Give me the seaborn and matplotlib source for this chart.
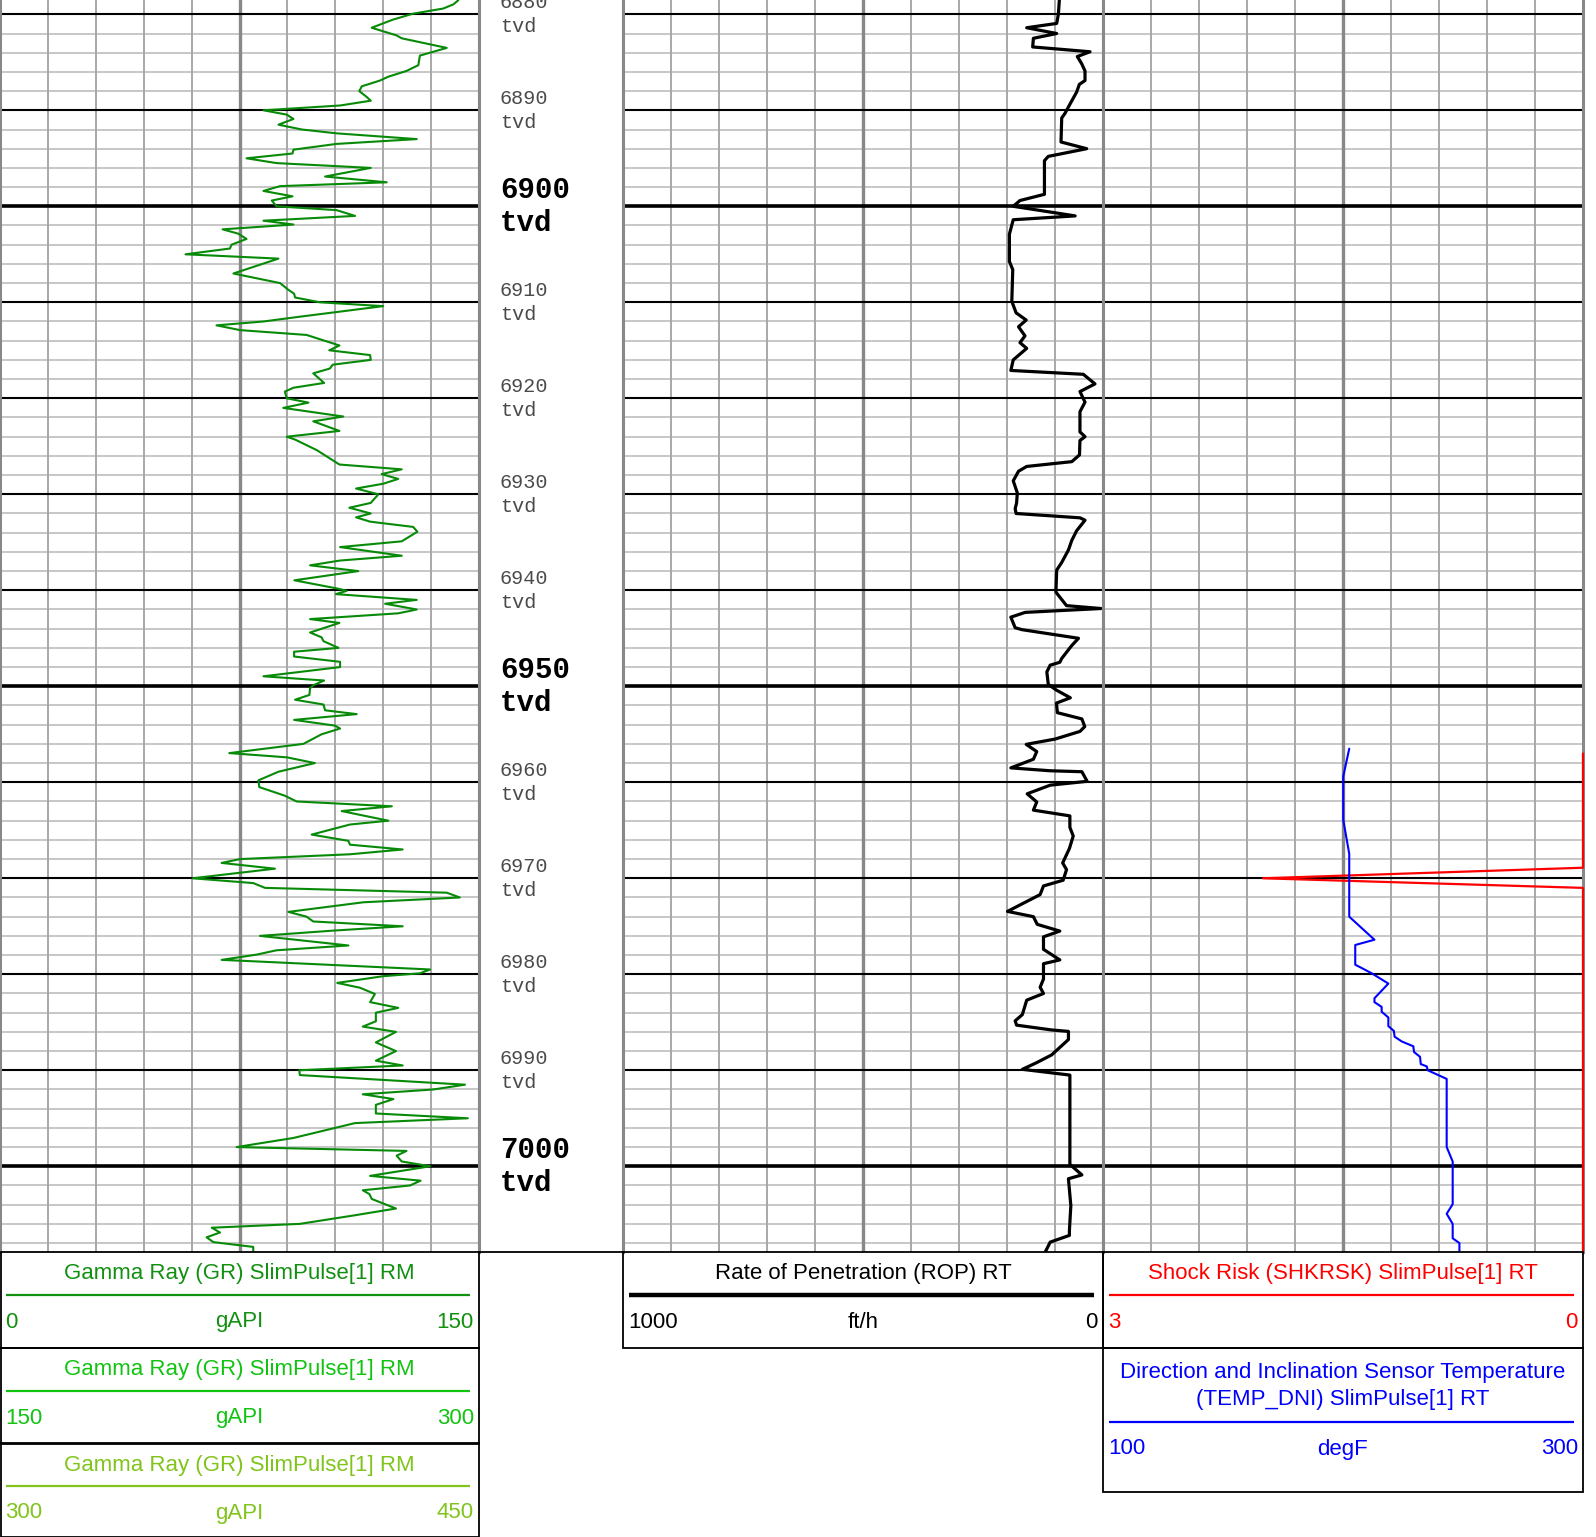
import matplotlib
matplotlib.use('Agg')
import matplotlib.pyplot as plt
from matplotlib import font_manager
from matplotlib.patches import Rectangle
import numpy as np
import pandas as pd
import seaborn as sns

# Gamma ray (gAPI), track 0-150
gr_depth = [6878.54, 6878.96, 6879.4, 6879.93, 6880.56, 6881.4, 6882.2, 6882.5, 6883.5, 6884.3,
            6885.3, 6885.9, 6886.5, 6886.9, 6887.5, 6888.0, 6888.6, 6889.0, 6889.5, 6890.0,
            6890.45, 6890.9, 6891.5, 6892.0, 6892.4, 6893.0, 6893.5, 6894.1, 6894.5, 6895.0,
            6895.5, 6895.8, 6896.0, 6896.9, 6897.5, 6897.9, 6898.4, 6898.96, 6899.4, 6900.0,
            6900.4, 6901.0, 6901.5, 6901.9, 6902.4, 6902.85, 6903.4, 6904.0, 6904.4, 6905.0,
            6905.45, 6907.0, 6908.0, 6908.7, 6909.1, 6909.5, 6910.0, 6910.4, 6911.5, 6912.0,
            6912.4, 6912.9, 6913.4, 6914.5, 6915.0, 6915.5, 6916.0, 6916.5, 6916.9, 6917.4,
            6918.4, 6918.9, 6919.3, 6920.0, 6920.45, 6921.0, 6921.9, 6922.4, 6923.4, 6924.0,
            6924.3, 6925.4, 6926.9, 6927.4, 6927.9, 6928.4, 6928.9, 6929.4, 6930.0, 6930.9,
            6931.4, 6932.0, 6932.4, 6932.85, 6933.4, 6933.9, 6934.9, 6935.5, 6936.4, 6936.9,
            6937.4, 6938.0, 6938.96, 6939.8, 6940.05, 6940.4, 6941.0, 6941.4, 6942.0, 6942.4,
            6943.0, 6943.4, 6944.4, 6944.9, 6945.3, 6946.0, 6946.4, 6946.9, 6947.45, 6948.0,
            6948.96, 6949.4, 6949.9, 6950.2, 6950.9, 6951.4, 6951.9, 6952.5, 6952.9, 6953.5,
            6954.1, 6954.4, 6955.0, 6956.0, 6956.96, 6957.4, 6958.0, 6958.9, 6959.8, 6960.5,
            6961.4, 6962.0, 6962.5, 6963.0, 6964.0, 6964.4, 6965.45, 6966.1, 6966.5, 6967.0,
            6967.5, 6968.0, 6968.4, 6969.0, 6970.0, 6970.5, 6971.0, 6971.5, 6972.0, 6972.5,
            6973.5, 6974.0, 6974.5, 6975.0, 6975.45, 6976.0, 6977.0, 6977.5, 6977.95, 6978.5,
            6978.6, 6979.5, 6979.9, 6980.2, 6980.9, 6981.4, 6982.05, 6982.9, 6983.5, 6984.0,
            6984.9, 6985.45, 6986.0, 6987.1, 6988.0, 6989.0, 6989.5, 6990.0, 6990.5, 6991.5,
            6992.0, 6992.5, 6993.0, 6993.6, 6994.5, 6995.0, 6995.5, 6997.05, 6998.0, 6998.4,
            6998.9, 6999.5, 7000.0, 7001.0, 7001.5, 7002.0, 7002.5, 7002.9, 7003.4, 7004.4,
            7005.1, 7006.0, 7006.4, 7006.9, 7007.4, 7007.9, 7008.4, 7008.96]
gr_value = [143.5, 142.0, 138.8, 129.4, 123.0, 116.4, 124.2, 125.8, 139.9, 131.5,
            131.0, 127.3, 121.6, 119.0, 113.3, 112.5, 114.8, 116.1, 106.5, 82.5,
            89.8, 91.9, 87.2, 94.5, 105.4, 130.5, 105.4, 91.9, 91.6, 77.2,
            86.6, 104.4, 116.1, 101.8, 121.1, 87.7, 82.5, 91.6, 85.1, 86.6,
            105.4, 111.2, 82.5, 91.9, 69.7, 74.6, 77.2, 72.5, 72.0, 58.1,
            87.2, 73.1, 87.7, 90.3, 92.1, 92.4, 100.2, 120.0, 93.9, 82.5,
            67.8, 75.2, 96.0, 106.3, 103.1, 115.9, 116.1, 104.2, 103.3, 98.1,
            101.5, 91.9, 89.2, 89.8, 96.6, 88.7, 107.5, 98.1, 106.3, 89.8,
            92.4, 99.2, 106.3, 125.8, 119.5, 124.7, 120.0, 111.5, 118.5, 116.1,
            109.4, 116.1, 111.5, 115.9, 129.4, 130.7, 125.8, 106.5, 125.8, 106.5,
            97.1, 112.2, 92.2, 105.4, 108.6, 105.2, 130.5, 120.6, 130.5, 124.7,
            97.1, 106.3, 97.1, 100.7, 101.3, 106.0, 92.1, 92.1, 106.5, 106.5,
            82.5, 101.5, 98.1, 97.1, 96.9, 92.4, 101.3, 101.8, 111.7, 92.1,
            104.9, 106.5, 100.7, 95.0, 71.8, 89.8, 98.6, 87.2, 80.9, 81.2,
            89.2, 92.9, 122.7, 107.0, 121.6, 109.6, 97.6, 109.1, 109.6, 126.1,
            109.6, 75.2, 69.4, 86.1, 60.3, 79.3, 83.0, 139.9, 144.0, 113.8,
            90.3, 96.0, 98.1, 126.1, 104.4, 81.4, 109.1, 86.6, 80.4, 69.4,
            76.2, 134.7, 131.5, 120.0, 105.6, 112.7, 117.4, 115.9, 124.7, 117.7,
            117.7, 113.6, 124.0, 117.7, 124.0, 117.7, 126.1, 93.7, 93.9, 145.6,
            135.7, 113.6, 123.2, 117.7, 117.7, 146.5, 111.2, 91.9, 74.1, 127.3,
            124.2, 125.8, 134.7, 115.9, 131.7, 128.4, 113.6, 115.7, 116.4, 124.0,
            111.2, 93.9, 66.3, 68.9, 64.7, 66.8, 79.3, 79.3]

# Rate of penetration (ft/h), track 1000-0
rop_depth = [6878.56, 6880.0, 6880.95, 6881.4, 6882.0, 6882.5, 6883.4, 6883.9, 6884.4, 6885.15,
             6885.9, 6886.9, 6887.3, 6888.1, 6889.35, 6890.3, 6890.8, 6893.3, 6894.0, 6894.8,
             6895.25, 6898.75, 6899.4, 6900.0, 6901.0, 6901.4, 6902.9, 6905.75, 6906.6, 6909.9,
             6911.1, 6911.85, 6912.55, 6913.5, 6914.2, 6914.8, 6916.0, 6917.1, 6917.5, 6918.5,
             6919.3, 6920.4, 6921.4, 6923.5, 6924.0, 6924.4, 6925.9, 6926.6, 6927.1, 6927.6,
             6928.6, 6929.85, 6930.9, 6931.5, 6932.0, 6932.45, 6932.7, 6933.8, 6934.8, 6935.8,
             6937.1, 6937.9, 6940.2, 6941.6, 6941.9, 6942.3, 6942.8, 6943.9, 6944.1, 6945.0,
             6945.75, 6947.1, 6947.5, 6947.8, 6948.5, 6949.8, 6950.4, 6951.2, 6951.75, 6952.75,
             6953.4, 6954.2, 6954.7, 6955.5, 6956.05, 6956.8, 6957.6, 6958.5, 6958.8, 6958.9,
             6959.9, 6960.3, 6961.2, 6962.05, 6962.9, 6963.5, 6964.7, 6965.6, 6966.9, 6968.4,
             6969.1, 6970.2, 6970.8, 6971.7, 6973.45, 6974.0, 6974.8, 6975.5, 6976.1, 6977.4,
             6978.5, 6978.9, 6980.5, 6981.35, 6982.0, 6982.7, 6984.2, 6984.85, 6985.3, 6985.8,
             6985.95, 6986.8, 6988.4, 6989.2, 6989.9, 6990.5, 6999.8, 7000.9, 7001.3, 7004.1,
             7006.7, 7007.2, 7007.9, 7009.0]
rop_value = [91, 93, 96.5, 159, 96.5, 145, 146.5, 27, 53.5, 44.4,
             37.5, 37.5, 49.3, 54.9, 68.75, 79, 86, 87.5, 34, 114,
             122, 122, 173, 187, 58, 187, 195, 195, 188, 190,
             181, 160, 176, 162.5, 173, 159, 187, 192, 41, 16.7,
             48, 37.5, 48, 48, 37.5, 48, 49, 65, 159, 176,
             187, 178.5, 180, 183, 181, 48, 37.5, 55, 65, 72,
             86, 96.5, 98, 76, 4, 162, 192, 183, 169, 51,
             65, 86, 90, 110, 117, 114, 97, 68, 97, 95,
             44, 38, 48, 100, 160, 138, 145, 192, 110, 44,
             33, 110, 158, 138, 145, 69, 69, 62, 70, 84,
             76, 83, 124, 131, 199, 145, 137, 90, 124, 124,
             90, 124, 124, 131, 124, 159, 168, 183, 180, 107,
             72, 72, 107, 138, 168, 69, 69, 44, 72, 67,
             70, 70, 110, 121]

# Shock risk, track 3-0
shk_depth = [6957.0, 6968.9, 6970.0, 6971.0, 7008.9]
shk_value = [0, 0, 2.0, 0, 0]

# Direction and inclination sensor temperature (degF), track 100-300
temp_depth = [6956.5, 6959.4, 6963.9, 6967.45, 6974.0, 6976.4, 6976.95, 6979.0, 6979.9, 6980.97,
              6982.5, 6982.9, 6983.4, 6983.9, 6984.5, 6985.4, 6985.9, 6986.5, 6987.0, 6987.5,
              6988.1, 6988.6, 6989.35, 6989.6, 6990.0, 6990.9, 6998.0, 6999.5, 7003.95, 7004.95,
              7006.0, 7007.5, 7008.0, 7009.0]
temp_value = [202.6, 200.1, 200.1, 202.6, 202.6, 213.1, 205.1, 205.1, 212.0, 218.9,
              213.1, 213.1, 216.1, 216.1, 218.9, 218.9, 221.2, 221.5, 224.5, 229.3,
              229.6, 232.1, 232.4, 234.9, 235.3, 243.2, 243.2, 245.7, 245.7, 243.2,
              245.7, 245.7, 248.5, 248.5]

gr_scales = [(0, 150), (150, 300), (300, 450)]
gr_colors = ['#119011', '#12c312', '#80c41c']
gr_title = 'Gamma Ray (GR) SlimPulse[1] RM'
rop_title = 'Rate of Penetration (ROP) RT'
shk_title = 'Shock Risk (SHKRSK) SlimPulse[1] RT'
temp_title = 'Direction and Inclination Sensor Temperature\n(TEMP_DNI) SlimPulse[1] RT'

W, H = 1596, 1537
TOP_DEPTH, BOTTOM_DEPTH = 6878.51, 7008.93
LOG_BOTTOM = 1252

sns.set_theme(style='white')
installed = {f.name for f in font_manager.fontManager.ttflist}
narrow = 'Liberation Sans Narrow' if 'Liberation Sans Narrow' in installed else 'Liberation Sans'
mono = 'Liberation Mono' if 'Liberation Mono' in installed else 'DejaVu Sans Mono'
plt.rcParams['font.family'] = [narrow, 'DejaVu Sans']
LEG_FS = 17 if narrow == 'Liberation Sans Narrow' else 16

fig = plt.figure(figsize=(W / 100, H / 100), dpi=100)


def px_axes(x0, x1, y0, y1):
    return fig.add_axes([x0 / W, 1 - y1 / H, (x1 - x0) / W, (y1 - y0) / H])


def style_track(ax, xlo, xhi, grid=True):
    ax.set_xlim(xlo, xhi)
    ax.set_ylim(BOTTOM_DEPTH, TOP_DEPTH)
    ax.set_xticks([])
    ax.set_yticks([])
    ax.set_xlabel('')
    ax.set_ylabel('')
    for side in ['left', 'right']:
        ax.spines[side].set_color('#888888')
        ax.spines[side].set_linewidth(2.2)
    for side in ['top', 'bottom']:
        ax.spines[side].set_visible(False)
    if not grid:
        return
    for i, xv in enumerate(np.linspace(xlo, xhi, 11)[1:-1], start=1):
        ax.axvline(xv, color='#888888' if i == 5 else '#a8a8a8',
                   lw=2.4 if i == 5 else 1.4, zorder=1)
    for d in range(6880, 7010, 2):
        if d % 50 == 0:
            ax.axhline(d, color='black', lw=2.6, zorder=1.5)
        elif d % 10 == 0:
            ax.axhline(d, color='black', lw=1.5, zorder=1.5)
        else:
            ax.axhline(d, color='#b8b8b8', lw=1.1, zorder=0.8)


# Gamma ray track
ax_gr = px_axes(0, 479, 0, LOG_BOTTOM)
gr_df = pd.DataFrame({'depth': gr_depth, 'gr': gr_value})
sns.lineplot(data=gr_df, x='gr', y='depth', sort=False, estimator=None,
             color='#078a07', lw=1.5, ax=ax_gr, zorder=3)
style_track(ax_gr, 0, 150)

# Depth track
ax_dp = px_axes(479, 623, 0, LOG_BOTTOM)
style_track(ax_dp, 0, 1, grid=False)
for d in range(6880, 7010, 10):
    if d % 50 == 0:
        ax_dp.text(0.145, d, f'{d}\ntvd', family=[mono, 'DejaVu Sans Mono'], fontweight='bold',
                   fontsize=21, color='black', ha='left', va='center', linespacing=1.25)
    else:
        ax_dp.text(0.145, d, f'{d}\ntvd', family=[mono, 'DejaVu Sans Mono'],
                   fontsize=14.5, color='#4a4a4a', ha='left', va='center', linespacing=1.3)

# Rate of penetration track
ax_rop = px_axes(623, 1103, 0, LOG_BOTTOM)
rop_df = pd.DataFrame({'depth': rop_depth, 'rop': rop_value})
sns.lineplot(data=rop_df, x='rop', y='depth', sort=False, estimator=None,
             color='black', lw=2.3, ax=ax_rop, zorder=3)
style_track(ax_rop, 1000, 0)

# Shock risk + temperature track
ax_shk = px_axes(1103, 1583, 0, LOG_BOTTOM)
shk_df = pd.DataFrame({'depth': shk_depth, 'shk': shk_value})
sns.lineplot(data=shk_df, x='shk', y='depth', sort=False, estimator=None,
             color='#ff0000', lw=1.6, ax=ax_shk, zorder=4, clip_on=False)
style_track(ax_shk, 3, 0)
ax_tmp = ax_shk.twiny()
tmp_df = pd.DataFrame({'depth': temp_depth, 'temp': temp_value})
sns.lineplot(data=tmp_df, x='temp', y='depth', sort=False, estimator=None,
             color='#0000ff', lw=1.5, ax=ax_tmp, zorder=4)
ax_tmp.set_xlim(100, 300)
ax_tmp.set_ylim(BOTTOM_DEPTH, TOP_DEPTH)
ax_tmp.set_xticks([])
ax_tmp.set_xlabel('')
ax_tmp.set_ylabel('')
for s in ax_tmp.spines.values():
    s.set_visible(False)

# Legend area in pixel coordinates
ov = fig.add_axes([0, 0, 1, 1], facecolor='none', zorder=10)
ov.set_xlim(0, W)
ov.set_ylim(H, 0)
ov.axis('off')


def box(x0, x1, y0, y1):
    ov.add_patch(Rectangle((x0, y0), x1 - x0, y1 - y0, fill=False, ec='black', lw=1.3))


def legend_entry(x0, x1, top, title, color, lo, unit, hi, line_lw=1.6, two_line=False):
    fs = LEG_FS
    if two_line:
        ov.text((x0 + x1) / 2, top + 38, title, color=color, fontsize=fs, ha='center',
                va='center', linespacing=1.35)
        ly, sy = top + 74, top + 101
    else:
        ov.text((x0 + x1) / 2, top + 22, title, color=color, fontsize=fs, ha='center', va='center')
        ly, sy = top + 43, top + 70
    ov.plot([x0 + 6, x1 - 9], [ly, ly], color=color, lw=line_lw, solid_capstyle='butt')
    ov.text(x0 + 5, sy, lo, color=color, fontsize=fs, ha='left', va='center')
    ov.text((x0 + x1) / 2, sy, unit, color=color, fontsize=fs, ha='center', va='center')
    ov.text(x1 - 5, sy, hi, color=color, fontsize=fs, ha='right', va='center')


gr_tops = [1252, 1348, 1443]
for top, (lo, hi), col in zip(gr_tops, gr_scales, gr_colors):
    box(1, 479, top, min(top + 96, H))
    legend_entry(0, 479, top, gr_title, col, str(lo), 'gAPI', str(hi))

ov.plot([479, 623], [LOG_BOTTOM, LOG_BOTTOM], color='black', lw=1.3)
box(623, 1103, 1252, 1348)
legend_entry(623, 1103, 1252, rop_title, 'black', '1000', 'ft/h', '0', line_lw=3.2)
box(1103, 1583, 1252, 1348)
legend_entry(1103, 1583, 1252, shk_title, '#ff0000', '3', '', '0')
box(1103, 1583, 1348, 1492)
legend_entry(1103, 1583, 1348, temp_title, '#0000ff', '100', 'degF', '300', two_line=True)

fig.savefig('out.png', dpi=100, facecolor='white')
